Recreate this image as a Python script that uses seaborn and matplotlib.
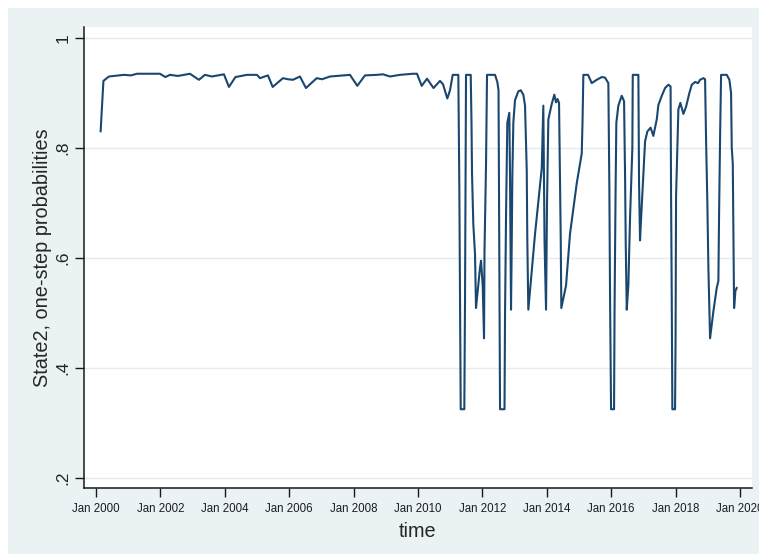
import pandas as pd
import seaborn as sns
import matplotlib.pyplot as plt
from matplotlib.patches import Rectangle

sns.set_style("white")
plt.rcParams["font.family"] = ["Liberation Sans", "DejaVu Sans"]

# time in decimal years
time_yr = [
    2000.146, 2000.233, 2000.404, 2000.870, 2001.087, 2001.273, 2001.988, 2002.158,
    2002.298, 2002.547, 2002.919, 2003.199, 2003.385, 2003.602, 2003.975, 2004.130,
    2004.332, 2004.689, 2005.000, 2005.093, 2005.342, 2005.488, 2005.807, 2005.963,
    2006.118, 2006.335, 2006.522, 2006.854, 2007.019, 2007.267, 2007.671, 2007.888,
    2008.115, 2008.354, 2008.727, 2008.913, 2009.130, 2009.441, 2009.845, 2009.969,
    2010.115, 2010.280, 2010.481, 2010.683, 2010.776, 2010.910, 2010.994, 2011.078,
    2011.252, 2011.283, 2011.304, 2011.326, 2011.438, 2011.460, 2011.475, 2011.491,
    2011.637, 2011.661, 2011.677, 2011.717, 2011.770, 2011.801, 2011.854, 2011.925,
    2011.957, 2012.009, 2012.050, 2012.065, 2012.112, 2012.143, 2012.391, 2012.463,
    2012.500, 2012.516, 2012.531, 2012.547, 2012.686, 2012.702, 2012.733, 2012.773,
    2012.835, 2012.857, 2012.873, 2012.888, 2012.910, 2012.929, 2012.960, 2013.012,
    2013.115, 2013.190, 2013.270, 2013.323, 2013.376, 2013.394, 2013.425, 2013.634,
    2013.842, 2013.866, 2013.891, 2013.929, 2013.975, 2014.006, 2014.047, 2014.152,
    2014.233, 2014.286, 2014.332, 2014.379, 2014.410, 2014.432, 2014.450, 2014.596,
    2014.720, 2014.929, 2015.084, 2015.109, 2015.134, 2015.280, 2015.394, 2015.550,
    2015.705, 2015.807, 2015.910, 2015.941, 2015.963, 2015.994, 2016.087, 2016.102,
    2016.134, 2016.158, 2016.220, 2016.326, 2016.398, 2016.429, 2016.450, 2016.481,
    2016.531, 2016.584, 2016.655, 2016.668, 2016.842, 2016.863, 2016.894, 2016.916,
    2016.997, 2017.050, 2017.121, 2017.221, 2017.307, 2017.413, 2017.463, 2017.569,
    2017.671, 2017.773, 2017.842, 2017.857, 2017.879, 2017.897, 2017.981, 2017.997,
    2018.012, 2018.084, 2018.146, 2018.239, 2018.323, 2018.426, 2018.500, 2018.602,
    2018.696, 2018.758, 2018.860, 2018.913, 2018.944, 2018.984, 2019.016, 2019.068,
    2019.171, 2019.276, 2019.326, 2019.348, 2019.379, 2019.410, 2019.587, 2019.668,
    2019.720, 2019.742, 2019.773, 2019.792, 2019.814, 2019.854, 2019.898,
]

prob = [
    0.830, 0.922, 0.930, 0.933, 0.932, 0.935, 0.935, 0.929,
    0.933, 0.931, 0.935, 0.924, 0.933, 0.930, 0.934, 0.911,
    0.929, 0.933, 0.933, 0.927, 0.932, 0.911, 0.927, 0.925,
    0.924, 0.930, 0.909, 0.927, 0.925, 0.930, 0.932, 0.933,
    0.913, 0.932, 0.933, 0.934, 0.930, 0.933, 0.935, 0.935,
    0.913, 0.926, 0.909, 0.922, 0.916, 0.890, 0.905, 0.933,
    0.933, 0.730, 0.527, 0.325, 0.325, 0.527, 0.730, 0.933,
    0.933, 0.846, 0.754, 0.662, 0.607, 0.509, 0.540, 0.582,
    0.595, 0.550, 0.454, 0.613, 0.770, 0.933, 0.933, 0.920,
    0.905, 0.717, 0.521, 0.325, 0.325, 0.497, 0.675, 0.846,
    0.864, 0.748, 0.625, 0.506, 0.625, 0.748, 0.846, 0.887,
    0.903, 0.905, 0.897, 0.877, 0.760, 0.632, 0.506, 0.644,
    0.763, 0.820, 0.877, 0.630, 0.506, 0.700, 0.852, 0.880,
    0.897, 0.883, 0.889, 0.882, 0.742, 0.632, 0.509, 0.550,
    0.644, 0.736, 0.790, 0.850, 0.933, 0.933, 0.918, 0.924,
    0.929, 0.928, 0.918, 0.730, 0.527, 0.325, 0.325, 0.500,
    0.720, 0.846, 0.877, 0.895, 0.885, 0.748, 0.625, 0.506,
    0.550, 0.674, 0.800, 0.933, 0.933, 0.736, 0.632, 0.660,
    0.754, 0.812, 0.830, 0.837, 0.822, 0.852, 0.878, 0.895,
    0.909, 0.915, 0.912, 0.717, 0.521, 0.325, 0.325, 0.454,
    0.711, 0.870, 0.882, 0.862, 0.875, 0.900, 0.915, 0.920,
    0.918, 0.924, 0.927, 0.925, 0.815, 0.700, 0.582, 0.454,
    0.503, 0.546, 0.558, 0.680, 0.820, 0.933, 0.933, 0.924,
    0.900, 0.800, 0.772, 0.644, 0.509, 0.540, 0.546,
]

x_tick_years = [2000, 2002, 2004, 2006, 2008, 2010, 2012, 2014, 2016, 2018, 2020]
x_tick_labels = ["Jan 2000", "Jan 2002", "Jan 2004", "Jan 2006", "Jan 2008", "Jan 2010",
                 "Jan 2012", "Jan 2014", "Jan 2016", "Jan 2018", "Jan 2020"]
y_ticks = [0.2, 0.4, 0.6, 0.8, 1.0]
y_tick_labels = [".2", ".4", ".6", ".8", "1"]

df = pd.DataFrame({"time": time_yr, "prob": prob})

bg = "#EAF2F3"
navy = "#1A476F"

fig = plt.figure(figsize=(7.59, 5.54), dpi=100, facecolor="white")
fig.add_artist(Rectangle((8 / 759, 0), 1, 1 - 8 / 554, transform=fig.transFigure,
                         facecolor=bg, edgecolor="none", zorder=-5))
ax = fig.add_axes([84 / 759, 1 - 488 / 554, (752 - 84) / 759, (488 - 27) / 554])
ax.set_facecolor("white")

sns.lineplot(data=df, x="time", y="prob", sort=False, estimator=None,
             color=navy, linewidth=1.5, ax=ax)

ax.set_xlim(1999.63, 2020.37)
ax.set_ylim(0.1818, 1.02)

ax.set_yticks(y_ticks)
ax.set_yticklabels(y_tick_labels, rotation=90, va="center", fontsize=12.5)
ax.set_xticks(x_tick_years)
ax.set_xticklabels(x_tick_labels, fontsize=8.3, color="#1b1b28")

ax.yaxis.grid(True, color="#E3ECEF", linewidth=1.0)
ax.xaxis.grid(False)
ax.set_axisbelow(True)

for s in ["top", "right"]:
    ax.spines[s].set_visible(False)
for s in ["left", "bottom"]:
    ax.spines[s].set_color("#1a1a1a")
    ax.spines[s].set_linewidth(1.1)

ax.tick_params(axis="both", direction="out", length=6.5, width=1.0, color="#1a1a1a",
               left=True, bottom=True)
ax.tick_params(axis="y", pad=3)
ax.tick_params(axis="x", pad=4)

ax.set_ylabel("State2, one-step probabilities", fontsize=14.3, labelpad=3)
ax.set_xlabel("time", fontsize=14.3, labelpad=5)

fig.savefig("out.png", dpi=100)
